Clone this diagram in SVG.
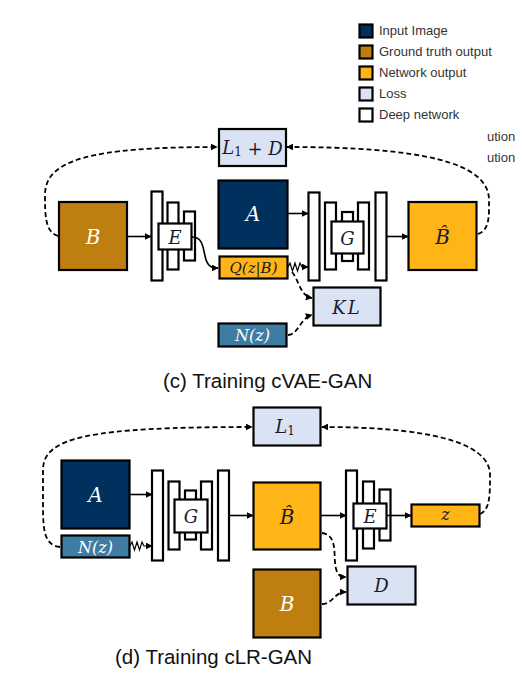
<svg xmlns="http://www.w3.org/2000/svg" width="522" height="674" viewBox="0 0 522 674">
<style>
.box{stroke:#000;stroke-width:2.2}
.inp{fill:#00305e}
.gt{fill:#bf7f10}
.out{fill:#ffb515}
.loss{fill:#dae3f3}
.nz{fill:#3f7ca4}
.net{fill:#fff;stroke:#000;stroke-width:2.2}
.m{font-family:"DejaVu Serif","Liberation Serif",serif;font-style:italic;text-anchor:middle;dominant-baseline:central}
.w{fill:#fff}
.k{fill:#1a1a2e}
.leg{font-family:"Liberation Sans",Arial,sans-serif;font-size:13px;fill:#333}
.cap{font-family:"Liberation Sans",Arial,sans-serif;font-size:20.5px;fill:#111}
.sol{fill:none;stroke:#000;stroke-width:1.6}
.zig{fill:none;stroke:#000;stroke-width:1.2}
.dash{fill:none;stroke:#000;stroke-width:1.8;stroke-dasharray:5 3}
</style>
<defs>
<marker id="ah" viewBox="0 0 10 10" refX="9" refY="5" markerWidth="7" markerHeight="7" markerUnits="userSpaceOnUse" orient="auto">
<path d="M0,0 L10,5 L0,10 z" fill="#000"/>
</marker>
</defs>
<rect width="522" height="674" fill="#fff"/>

<g id="legend">
<rect x="359.5" y="24.5" width="13" height="13" class="box inp"/>
<text x="379" y="35" class="leg">Input Image</text>
<rect x="359.5" y="45.5" width="13" height="13" class="box gt"/>
<text x="379" y="56" class="leg">Ground truth output</text>
<rect x="359.5" y="66.5" width="13" height="13" class="box out"/>
<text x="379" y="77" class="leg">Network output</text>
<rect x="359.5" y="87.5" width="13" height="13" class="box loss"/>
<text x="379" y="98" class="leg">Loss</text>
<rect x="359.5" y="108.5" width="13" height="13" fill="#fff" class="box"/>
<text x="379" y="119" class="leg">Deep network</text>
<text x="487" y="141" class="leg">ution</text>
<text x="487" y="162" class="leg">ution</text>
</g>

<!-- (c) cVAE-GAN -->
<g id="c_loss_L1D">
<rect x="219" y="129" width="67" height="37" class="box loss"/>
<text x="252.5" y="147.5" class="m k" font-size="18">L<tspan font-style="normal" font-size="12" dy="4">1</tspan><tspan dy="-4"> + D</tspan></text>
</g>
<g id="c_B">
<rect x="59" y="202" width="68" height="68" class="box gt"/>
<text x="93" y="237" class="m w" font-size="20">B</text>
</g>
<g id="c_E">
<rect x="151.5" y="191.5" width="11" height="89" class="net"/>
<rect x="167.5" y="202.5" width="11" height="67" class="net"/>
<rect x="184" y="211.5" width="11" height="49" class="net"/>
<rect x="158.5" y="223.5" width="33" height="26" class="net"/>
<text x="175" y="237" class="m k" font-size="18">E</text>
</g>
<g id="c_A">
<rect x="218.5" y="180.5" width="69" height="68" class="box inp"/>
<text x="253" y="214" class="m w" font-size="20">A</text>
</g>
<g id="c_Q">
<rect x="219.5" y="256.5" width="68" height="22" class="box out"/>
<text x="253.5" y="268" class="m k" font-size="15">Q(z|B)</text>
</g>
<g id="c_G">
<rect x="308.5" y="192.5" width="11" height="88" class="net"/>
<rect x="325" y="202.5" width="11" height="67" class="net"/>
<rect x="342" y="212" width="11" height="49" class="net"/>
<rect x="358" y="202.5" width="11" height="67" class="net"/>
<rect x="375.5" y="192.5" width="11" height="88" class="net"/>
<rect x="331.5" y="221.5" width="32" height="32" class="net"/>
<text x="347.5" y="238" class="m k" font-size="18">G</text>
</g>
<g id="c_Bhat">
<rect x="408.5" y="202" width="68" height="68" class="box out"/>
<text x="442.5" y="237" class="m k" font-size="20">B&#x302;</text>
</g>
<g id="c_KL">
<rect x="313.5" y="287.5" width="67" height="38" class="box loss"/>
<text x="347" y="307" class="m k" font-size="18" letter-spacing="2">KL</text>
</g>
<g id="c_Nz">
<rect x="218.5" y="323.5" width="68" height="23" class="box nz"/>
<text x="252.5" y="335.5" class="m w" font-size="16">N(z)</text>
</g>
<text x="163" y="388" class="cap">(c) Training cVAE-GAN</text>

<!-- (d) cLR-GAN -->
<g id="d_L1">
<rect x="253.5" y="407.5" width="67" height="38" class="box loss"/>
<text x="285" y="426.5" class="m k" font-size="18">L<tspan font-style="normal" font-size="12" dy="4">1</tspan></text>
</g>
<g id="d_A">
<rect x="61.5" y="460.5" width="68" height="68" class="box inp"/>
<text x="95.5" y="494.5" class="m w" font-size="20">A</text>
</g>
<g id="d_Nz">
<rect x="61.5" y="535.5" width="68" height="22" class="box nz"/>
<text x="95.5" y="547" class="m w" font-size="16">N(z)</text>
</g>
<g id="d_G">
<rect x="152" y="470.5" width="11" height="90" class="net"/>
<rect x="168.5" y="481.5" width="11" height="68" class="net"/>
<rect x="185" y="490.5" width="11" height="49" class="net"/>
<rect x="201" y="481.5" width="11" height="68" class="net"/>
<rect x="218" y="470.5" width="11" height="90" class="net"/>
<rect x="174.5" y="499.5" width="33" height="33" class="net"/>
<text x="191" y="516.5" class="m k" font-size="18">G</text>
</g>
<g id="d_Bhat">
<rect x="253.5" y="482.5" width="67" height="67" class="box out"/>
<text x="287" y="516.5" class="m k" font-size="20">B&#x302;</text>
</g>
<g id="d_E">
<rect x="346" y="470.5" width="11" height="90" class="net"/>
<rect x="363" y="481.5" width="11" height="67" class="net"/>
<rect x="379.5" y="489.5" width="11" height="51" class="net"/>
<rect x="353.5" y="503.5" width="33" height="25" class="net"/>
<text x="370" y="516" class="m k" font-size="18">E</text>
</g>
<g id="d_z">
<rect x="411.5" y="504.5" width="68" height="22" class="box out"/>
<text x="445.5" y="514.5" class="m k" font-size="16">z</text>
</g>
<g id="d_D">
<rect x="347.5" y="566.5" width="68" height="38" class="box loss"/>
<text x="381.5" y="585.5" class="m k" font-size="18">D</text>
</g>
<g id="d_B">
<rect x="253.5" y="569.5" width="67" height="68" class="box gt"/>
<text x="287" y="604" class="m w" font-size="20">B</text>
</g>
<text x="115" y="664" class="cap">(d) Training cLR-GAN</text>

<g id="connectors">
<!-- (c) -->
<path d="M127,236.5 L151,236.5" class="sol" marker-end="url(#ah)"/>
<path d="M192,237 C202,237 203,246 205,256 C207,265 210,268 218,268" class="sol" marker-end="url(#ah)"/>
<path d="M288,213.5 L308,213.5" class="sol" marker-end="url(#ah)"/>
<path d="M288,267 l2,-4 l2.5,8 l2.5,-8 l2.5,8 l2.5,-8 l2,4 L308,267" class="zig" marker-end="url(#ah)"/>
<path d="M387,236.5 L408,236.5" class="sol" marker-end="url(#ah)"/>
<path d="M58,236 C45,232 45,215 45,195 C45,160 90,147 217,147" class="dash" marker-end="url(#ah)"/>
<path d="M478,234 C490,230 489,215 489,200 C489,162 420,147 287,147" class="dash" marker-end="url(#ah)"/>
<path d="M292,272 C299,280 300,296 312,298" class="dash" marker-end="url(#ah)"/>
<path d="M288,335 C299,334 300,318 312,315" class="dash" marker-end="url(#ah)"/>
<!-- (d) -->
<path d="M129,494.5 L152,494.5" class="sol" marker-end="url(#ah)"/>
<path d="M130,546 l2,-4 l2.5,8 l2.5,-8 l2.5,8 l2.5,-8 l2,4 L152,546" class="zig" marker-end="url(#ah)"/>
<path d="M229,515.5 L253,515.5" class="sol" marker-end="url(#ah)"/>
<path d="M321,515.5 L346,515.5" class="sol" marker-end="url(#ah)"/>
<path d="M387,515.5 L411,515.5" class="sol" marker-end="url(#ah)"/>
<path d="M60,547 C44,545 43,530 43,505 L43,470 C43,437 90,427 252,427" class="dash" marker-end="url(#ah)"/>
<path d="M480,514 C490,510 490,495 490,475 C490,440 420,427 322,427" class="dash" marker-end="url(#ah)"/>
<path d="M322,533 C336,535 334,550 335,562 C336,574 339,577 346,577" class="dash" marker-end="url(#ah)"/>
<path d="M322,604 C333,604 334,592 346,592" class="dash" marker-end="url(#ah)"/>
</g>
</svg>
